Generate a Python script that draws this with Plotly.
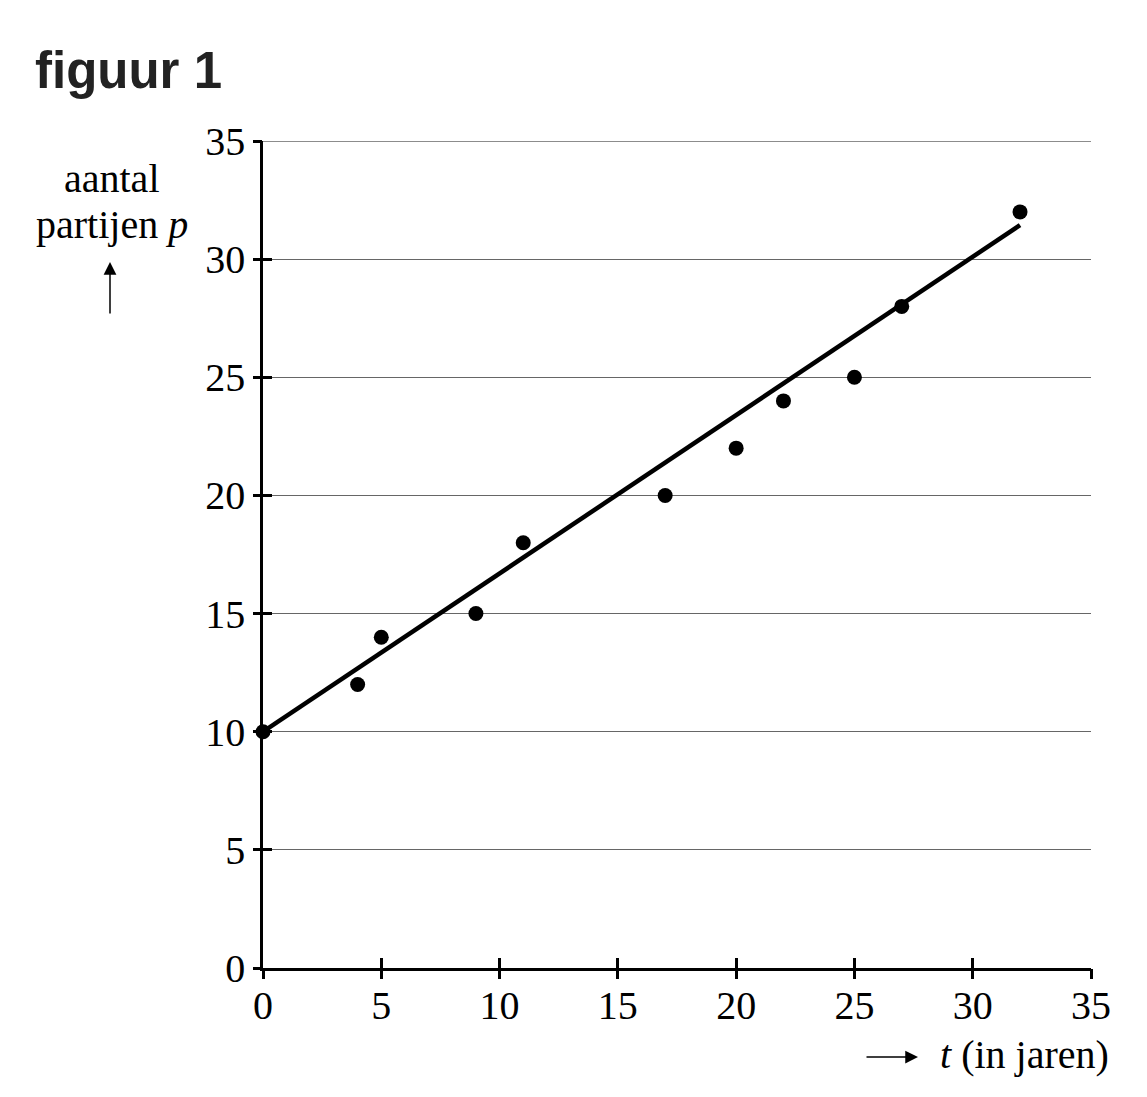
import plotly.graph_objects as go

# data
t_vals = [0, 4, 5, 9, 11, 17, 20, 22, 25, 27, 32]
p_vals = [10, 12, 14, 15, 18, 20, 22, 24, 25, 28, 32]
line_t = [0, 32]
line_p = [10, 10 + 0.67 * 32]
tick_vals = [0, 5, 10, 15, 20, 25, 30, 35]
tick_text = [str(v) for v in tick_vals]

OFF = 8  # page body margin
W, H = 1147 - OFF, 1097 - OFF
L, R, T, B = 263 - OFF, 56, 141 - OFF, 129
pw, ph = W - L - R, H - T - B

def px(x):
    return (x - OFF - L) / pw

def py(y):
    return (H - B - (y - OFF)) / ph

serif = "Liberation Serif, Times New Roman, serif"
fs = 40
grid_col = "#666666"

fig = go.Figure()
fig.add_trace(go.Scatter(x=line_t, y=line_p, mode="lines",
                         line=dict(color="black", width=4.5),
                         hoverinfo="skip", showlegend=False))
fig.add_trace(go.Scatter(x=t_vals, y=p_vals, mode="markers",
                         marker=dict(color="black", size=15),
                         cliponaxis=False, showlegend=False))
# invisible trace to activate overlay axes (outer tick halves)
fig.add_trace(go.Scatter(x=[0], y=[0], xaxis="x2", yaxis="y2", mode="markers",
                         marker=dict(opacity=0), hoverinfo="skip", showlegend=False))

YR = [0, 35]
fig.update_layout(
    width=W, height=H,
    margin=dict(l=L, r=R, t=T, b=B),
    plot_bgcolor="white", paper_bgcolor="white",
    xaxis=dict(range=[0, 35], tickvals=tick_vals, ticktext=tick_text,
               tickfont=dict(family=serif, size=fs, color="black"),
               zeroline=False, fixedrange=True,
               showgrid=False, showline=True, linecolor="black",
               linewidth=2.5, ticks="inside", ticklen=10, tickwidth=2.5,
               tickcolor="black", ticklabelstandoff=0),
    yaxis=dict(range=YR, tickvals=tick_vals, ticktext=tick_text,
               tickfont=dict(family=serif, size=fs, color="black"),
               zeroline=False, fixedrange=True,
               showgrid=True, gridcolor=grid_col, gridwidth=1.3,
               showline=True, linecolor="black", linewidth=2.5,
               ticks="inside", ticklen=9, tickwidth=2.5, tickcolor="black",
               ticklabelstandoff=7),
    xaxis2=dict(range=[0, 35], tickvals=tick_vals, overlaying="x",
                ticks="outside", ticklen=10, tickwidth=2.5, tickcolor="black",
                showticklabels=False, showgrid=False, showline=False,
                zeroline=False, side="bottom", anchor="y2", fixedrange=True),
    yaxis2=dict(range=YR, tickvals=tick_vals, overlaying="y",
                ticks="outside", ticklen=9, tickwidth=2.5, tickcolor="black",
                showticklabels=False, showgrid=False, showline=False,
                zeroline=False, side="left", anchor="x2", fixedrange=True),
    showlegend=False,
)

# top gridline at the top of the range (plotly hides gridlines at the edge)
fig.add_shape(type="line", xref="paper", yref="y", x0=0, x1=1,
              y0=tick_vals[-1], y1=tick_vals[-1],
              line=dict(color=grid_col, width=1.3), layer="below")

ann = []
ann.append(dict(text="<b>figuur 1</b>", x=px(33), y=py(70), xref="paper", yref="paper",
                xanchor="left", yanchor="middle", showarrow=False,
                font=dict(family="Liberation Sans, Arial, sans-serif", size=51, color="#222222")))
ann.append(dict(text="aantal", x=px(112), y=py(178), xref="paper", yref="paper",
                xanchor="center", yanchor="middle", showarrow=False,
                font=dict(family=serif, size=fs, color="black")))
ann.append(dict(text="partijen <i>p</i>", x=px(112), y=py(224), xref="paper", yref="paper",
                xanchor="center", yanchor="middle", showarrow=False,
                font=dict(family=serif, size=fs, color="black")))
ann.append(dict(text="", x=px(110), y=py(262), xref="paper", yref="paper",
                ax=0, ay=53, showarrow=True, arrowhead=2, arrowsize=1.7,
                arrowwidth=1.5, arrowcolor="black"))
ann.append(dict(text="<i>t</i> (in jaren)", x=px(1111), y=py(1054), xref="paper", yref="paper",
                xanchor="right", yanchor="middle", showarrow=False,
                font=dict(family=serif, size=fs, color="black")))
ann.append(dict(text="", x=px(918), y=py(1057), xref="paper", yref="paper",
                ax=-53, ay=0, showarrow=True, arrowhead=2, arrowsize=1.7,
                arrowwidth=1.5, arrowcolor="black"))
fig.update_layout(annotations=ann)

fig.write_html("out.html")
